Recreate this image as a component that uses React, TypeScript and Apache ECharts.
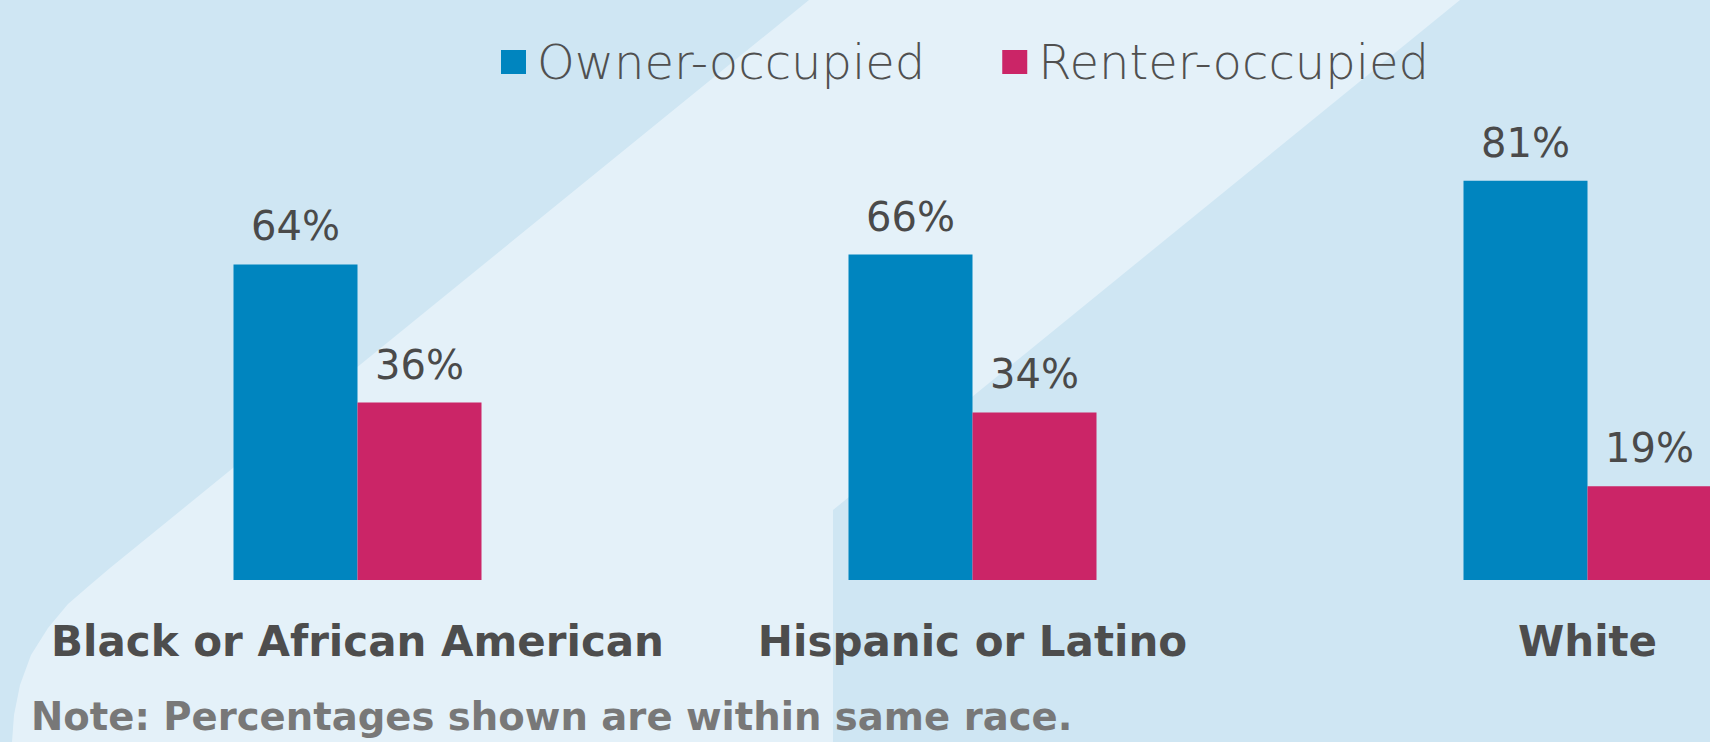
import React, { useEffect, useRef } from "react";
import * as echarts from "echarts";

const categories = ["Black or African American", "Hispanic or Latino", "White"];
const ownerValues = [64, 66, 81];
const renterValues = [36, 34, 19];
const seriesNames = ["Owner-occupied", "Renter-occupied"];
const noteText = "Note: Percentages shown are within same race.";

const BLUE = "#0085bf";
const PINK = "#cb2567";
const DARK_BG = "#cfe6f3";
const LIGHT_BG = "#e4f1f9";

export default function App() {
  const ref = useRef<HTMLDivElement>(null);
  useEffect(() => {
    document.body.style.margin = "0";
    const chart = echarts.init(ref.current!, null, { renderer: "svg" });
    const labelStyle = {
      show: true,
      position: "top",
      distance: 18,
      fontFamily: "DejaVu Sans",
      fontSize: 40,
      color: "#4a4a4a",
      formatter: (p: any) => p.value + "%",
    };
    chart.setOption({
      animation: false,
      backgroundColor: DARK_BG,
      graphic: [
        {
          type: "polygon",
          z: -10,
          silent: true,
          shape: {
            points: [
              [809, 0],
              [1460, 0],
              [833, 510],
              [833, 742],
              [12, 742],
              [14, 715],
              [20, 685],
              [31, 655],
              [48, 628],
              [68, 604],
              [90, 585],
              [110, 568],
            ],
          },
          style: { fill: LIGHT_BG },
        },
        {
          type: "text",
          left: 31,
          top: 697,
          z: 10,
          style: {
            text: noteText,
            fontFamily: "DejaVu Sans",
            fontWeight: "bold",
            fontSize: 38.6,
            fill: "#787878",
          },
        },
      ],
      legend: {
        left: 496,
        top: 33,
        itemWidth: 25,
        itemHeight: 24,
        itemGap: 77,
        icon: "rect",
        data: seriesNames,
        textStyle: {
          fontFamily: "DejaVu Sans",
          fontWeight: 200,
          fontSize: 48,
          color: "#505050",
          padding: [0, 0, 0, 6],
        },
      },
      grid: {
        left: 50,
        right: -185,
        top: 87,
        height: 493,
        containLabel: false,
        outerBoundsMode: "none",
      },
      xAxis: {
        type: "category",
        data: categories,
        axisLine: { show: false },
        axisTick: { show: false },
        axisLabel: {
          margin: 40,
          fontFamily: "DejaVu Sans",
          fontWeight: "bold",
          fontSize: 42,
          color: "#4d4d4d",
          interval: 0,
        },
      },
      yAxis: {
        type: "value",
        min: 0,
        max: 100,
        show: false,
        splitLine: { show: false },
      },
      series: [
        {
          name: seriesNames[0],
          type: "bar",
          data: ownerValues,
          barWidth: 124,
          barGap: "0%",
          itemStyle: { color: BLUE },
          label: labelStyle,
        },
        {
          name: seriesNames[1],
          type: "bar",
          data: renterValues,
          barWidth: 124,
          barGap: "0%",
          itemStyle: { color: PINK },
          label: labelStyle,
        },
      ],
    });
    return () => chart.dispose();
  }, []);
  return <div ref={ref} style={{ width: 1710, height: 742, overflow: "hidden" }} />;
}
